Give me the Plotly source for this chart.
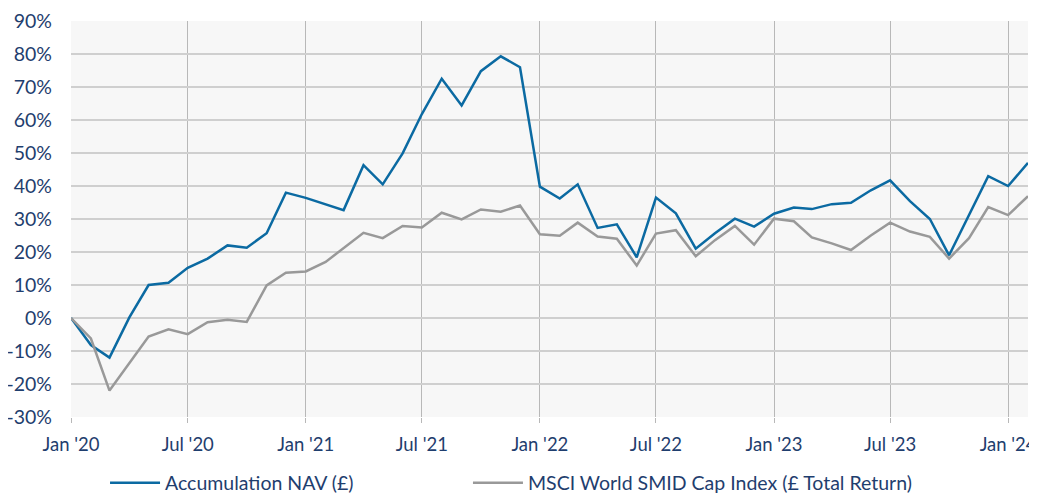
import plotly.graph_objects as go

months = [
    "2020-01-01", "2020-02-01", "2020-03-01", "2020-04-01", "2020-05-01", "2020-06-01",
    "2020-07-01", "2020-08-01", "2020-09-01", "2020-10-01", "2020-11-01", "2020-12-01",
    "2021-01-01", "2021-02-01", "2021-03-01", "2021-04-01", "2021-05-01", "2021-06-01",
    "2021-07-01", "2021-08-01", "2021-09-01", "2021-10-01", "2021-11-01", "2021-12-01",
    "2022-01-01", "2022-02-01", "2022-03-01", "2022-04-01", "2022-05-01", "2022-06-01",
    "2022-07-01", "2022-08-01", "2022-09-01", "2022-10-01", "2022-11-01", "2022-12-01",
    "2023-01-01", "2023-02-01", "2023-03-01", "2023-04-01", "2023-05-01", "2023-06-01",
    "2023-07-01", "2023-08-01", "2023-09-01", "2023-10-01", "2023-11-01", "2023-12-01",
    "2024-01-01", "2024-02-01",
]

nav = [
    0, -8.2, -12, 0.2, 10, 10.7, 15.2, 18, 22, 21.3, 25.7, 38,
    36.4, 34.5, 32.7, 46.3, 40.5, 49.9, 61.8, 72.5, 64.4, 74.8, 79.3, 76,
    39.8, 36.2, 40.5, 27.3, 28.4, 18.4, 36.5, 31.7, 21, 25.7, 30.1, 27.7,
    31.6, 33.5, 33, 34.5, 34.9, 38.7, 41.7, 35.4, 30, 19, 31.2, 43,
    40, 47,
]

msci = [
    0, -6.2, -22, -13.6, -5.6, -3.4, -4.9, -1.3, -0.5, -1.2, 9.9, 13.7,
    14.1, 17, 21.2, 25.8, 24.2, 27.9, 27.4, 31.9, 29.9, 32.9, 32.2, 34.1,
    25.4, 24.9, 28.9, 24.7, 24, 15.9, 25.6, 26.6, 18.7, 23.6, 27.9, 22.2,
    30.1, 29.3, 24.4, 22.6, 20.6, 25, 28.9, 26.2, 24.6, 18, 24.2, 33.6,
    31.2, 36.9,
]

tick_vals = ["2020-01-01", "2020-07-01", "2021-01-01", "2021-07-01", "2022-01-01",
             "2022-07-01", "2023-01-01", "2023-07-01", "2024-01-01"]
tick_text = ["Jan '20", "Jul '20", "Jan '21", "Jul '21", "Jan '22",
             "Jul '22", "Jan '23", "Jul '23", "Jan '24"]

y_vals = [-30, -20, -10, 0, 10, 20, 30, 40, 50, 60, 70, 80, 90]
y_text = [f"{v}%" for v in y_vals]

navy = "#1f3e6e"
font_family = "Lato, 'Open Sans', sans-serif"
fsize = 19.5

fig = go.Figure()
fig.add_trace(go.Scatter(
    x=months, y=nav, mode="lines", name="Accumulation NAV (£)",
    line=dict(color="#0b6aa2", width=2.5), legend="legend",
))
fig.add_trace(go.Scatter(
    x=months, y=msci, mode="lines", name="MSCI World SMID Cap Index (£ Total Return)",
    line=dict(color="#999999", width=2.5), legend="legend2",
))

legend_common = dict(
    orientation="h", yref="paper", y=-0.167, yanchor="middle",
    xref="container", xanchor="left",
    font=dict(size=fsize, color=navy), itemwidth=50,
    bgcolor="rgba(0,0,0,0)",
)

# the page body has an 8px margin, so the figure is sized/offset to fit the window
fig.update_layout(
    width=1029, height=485,
    margin=dict(l=63, r=9, t=13, b=76, autoexpand=False),
    paper_bgcolor="white",
    plot_bgcolor="#f7f7f7",
    font=dict(family=font_family, size=fsize, color=navy),
    showlegend=True,
    legend=dict(x=0.0943, **legend_common),
    legend2=dict(x=0.447, **legend_common),
    xaxis=dict(
        range=["2020-01-01", "2024-02-01"],
        tickvals=tick_vals, ticktext=tick_text,
        showgrid=True, gridcolor="#b8b8b8", gridwidth=1,
        showline=False, zeroline=False,
        ticks="outside", ticklen=5, tickcolor="#b8b8b8",
        tickfont=dict(size=18.5, color=navy),
        ticklabelstandoff=6,
        ticklabeloverflow="allow",
        automargin=False,
    ),
    yaxis=dict(
        range=[-30, 90],
        tickvals=y_vals, ticktext=y_text,
        showgrid=True, gridcolor="#cfcfcf", gridwidth=1.5,
        zeroline=False, showline=False,
        tickfont=dict(size=fsize, color=navy),
        ticks="", ticklabelstandoff=18,
        automargin=False,
    ),
)

fig.write_html("out.html")
